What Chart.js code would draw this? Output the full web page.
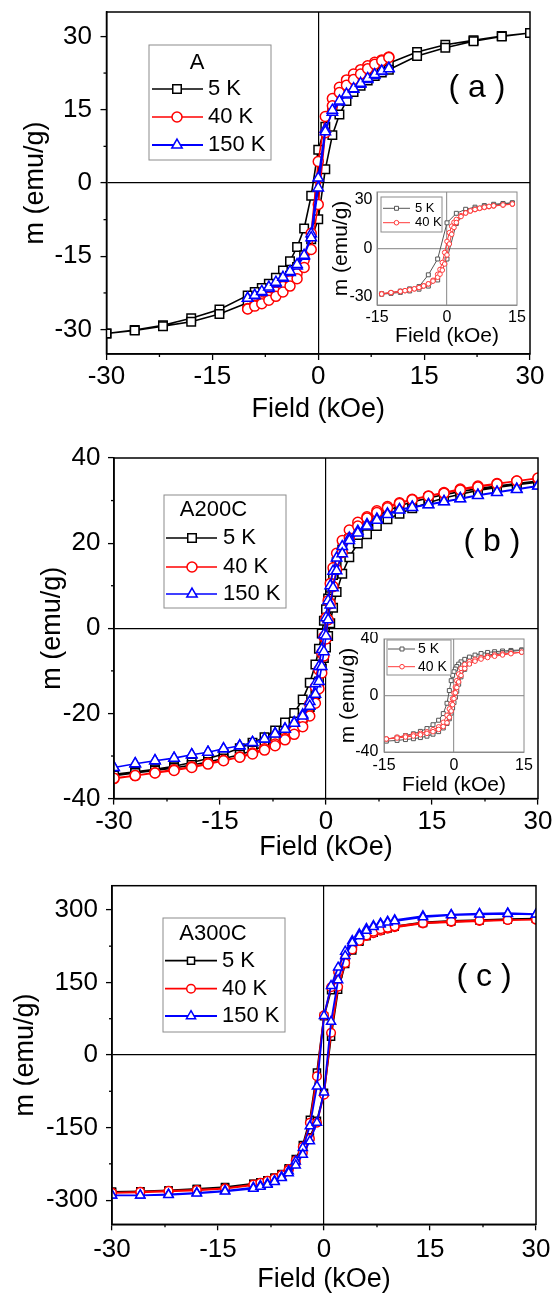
<!DOCTYPE html>
<html>
<head>
<meta charset="utf-8">
<script src="https://cdn.jsdelivr.net/npm/chart.js@4.4.1/dist/chart.umd.min.js"></script>
<style>
  html, body { margin: 0; padding: 0; background: #fff; }
  #page { position: relative; width: 554px; height: 1295px; overflow: hidden; background: #fff; }
  canvas { position: absolute; }
</style>
</head>
<body>
<div id="page">
  <canvas id="chartA" width="554" height="425" style="left:0px;top:0px"></canvas>
  <canvas id="insetA" width="215" height="162" style="left:320px;top:185px"></canvas>
  <canvas id="chartB" width="554" height="440" style="left:0px;top:425px"></canvas>
  <canvas id="insetB" width="215" height="164" style="left:325px;top:632px"></canvas>
  <canvas id="chartC" width="554" height="430" style="left:0px;top:865px"></canvas>
</div>
<script>
// ---- data (field in kOe, m in emu/g); "Down" = field sweeping + to -, "Up" = - to + ----
var fieldA = [30, 26, 22, 18, 14, 10, 9, 8, 7, 6, 5, 4, 3, 2, 1, 0, -1, -2, -3, -4, -5, -6, -7, -8, -9, -10, -14, -18, -22, -26, -30];
var fieldA10 = [10, 9, 8, 7, 6, 5, 4, 3, 2, 1, 0, -1, -2, -3, -4, -5, -6, -7, -8, -9, -10];
var a5Down = [30.7, 30.1, 29.2, 28.3, 26.8, 24.5, 23.9, 23.2, 22.4, 21.5, 20.4, 19.0, 17.2, 14.8, 11.5, 6.8, -2.6, -9.3, -13.1, -16.0, -17.9, -19.4, -20.6, -21.5, -22.3, -23.0, -25.9, -27.7, -29.1, -30.1, -30.8];
var a5Up = [-30.8, -30.2, -29.3, -28.4, -26.8, -24.5, -23.9, -23.2, -22.4, -21.5, -20.4, -19.0, -17.2, -14.8, -11.5, -7.4, 2.8, 9.8, 14.0, 16.8, 18.6, 19.9, 21.0, 21.9, 22.6, 23.2, 26.0, 27.7, 29.0, 30.0, 30.7];
var a40Down = [25.8, 25.2, 24.7, 24.0, 23.2, 22.3, 21.1, 19.6, 17.3, 13.6, 4.4, -10.3, -15.8, -18.5, -20.0, -21.2, -22.3, -23.4, -24.3, -25.0, -25.7];
var a40Up = [-25.8, -25.2, -24.7, -24.0, -23.2, -22.3, -21.1, -19.6, -17.3, -13.6, -4.4, 10.3, 15.8, 18.5, 20.0, 21.2, 22.3, 23.4, 24.3, 25.0, 25.7];
var a150Down = [23.5, 22.8, 22.0, 21.2, 20.2, 19.2, 18.0, 16.6, 14.5, 11.0, 1.0, -10.4, -15.0, -17.0, -18.3, -19.5, -20.6, -21.6, -22.4, -23.1, -23.6];
var a150Up = [-23.6, -23.0, -22.2, -21.3, -20.3, -19.3, -18.1, -16.7, -14.8, -11.2, -1.0, 10.5, 14.9, 16.8, 18.2, 19.3, 20.4, 21.4, 22.2, 22.9, 23.4];

var fieldInsetA5 = [14, 12, 10, 8, 6, 4, 2, 0, -2, -4, -6, -8, -10, -12, -14];
var insetA5Down = [28.3, 27.9, 27.4, 26.6, 25.6, 24.3, 21.8, 15.9, -6.5, -16.3, -23.6, -25.0, -26.4, -27.4, -28.0];
var insetA5Up = [-28.3, -27.8, -27.2, -26.3, -25.2, -23.3, -19.5, -6.5, 15.5, 22.3, 24.5, 25.8, 26.8, 27.6, 28.2];
var fieldInsetA40 = [14, 12, 10, 9, 8, 7, 6, 5, 4, 3, 2, 1.5, 1, 0.5, 0, -0.5, -1, -1.5, -2, -3, -4, -5, -6, -7, -8, -9, -10, -12, -14];
var insetA40Down = [27.4, 26.9, 26.3, 25.9, 25.4, 24.8, 24.1, 23.2, 22.0, 20.4, 18.0, 16.2, 13.8, 9.8, 4.4, -2.5, -8.7, -13.0, -16.0, -19.7, -21.9, -23.2, -24.2, -25.0, -25.6, -26.1, -26.6, -27.3, -28.0];
var insetA40Up = [-28.2, -27.3, -26.6, -26.1, -25.6, -25.0, -24.2, -23.2, -21.9, -20.2, -17.8, -15.9, -13.4, -9.6, -4.0, 2.8, 8.8, 13.0, 16.1, 19.8, 22.0, 23.3, 24.2, 25.0, 25.6, 26.1, 26.5, 27.0, 27.6];

var fieldB = [30, 27, 24.2, 21.5, 19, 16.7, 14.5, 12.2, 10.4, 8.7, 7.2, 5.8, 4.5, 3.3, 2.3, 1.5, 1.0, 0.6, 0.3, 0, -0.3, -0.6, -1.0, -1.5, -2.3, -3.3, -4.5, -5.8, -7.2, -8.7, -10.4, -12.2, -14.5, -16.7, -19, -21.5, -24.2, -27, -30];
var b5Down = [34.6, 34.0, 33.4, 32.8, 32.1, 31.4, 30.6, 29.7, 28.7, 27.6, 26.4, 25.0, 23.2, 21.0, 18.5, 15.5, 12.5, 9.5, 7.0, 4.5, 1.8, -1.2, -4.8, -8.5, -12.8, -16.7, -19.9, -22.1, -24.0, -25.6, -26.9, -28.2, -29.5, -30.6, -31.5, -32.4, -33.1, -33.7, -34.3];
var b5Up = [-34.6, -34.0, -33.4, -32.8, -32.1, -31.4, -30.6, -29.7, -28.7, -27.6, -26.4, -25.0, -23.2, -21.0, -18.5, -15.5, -12.5, -9.5, -7.0, -4.5, -1.8, 1.2, 4.8, 8.5, 12.8, 16.7, 19.9, 22.1, 24.0, 25.6, 26.9, 28.2, 29.5, 30.6, 31.5, 32.4, 33.1, 33.7, 34.3];
var b40Down = [35.2, 34.6, 34.0, 33.4, 32.7, 31.9, 31.1, 30.3, 29.5, 28.6, 27.6, 26.2, 24.9, 23.1, 20.6, 17.6, 14.2, 10.5, 6.5, 2.5, -2.0, -5.8, -9.8, -13.8, -17.8, -21.2, -24.0, -25.9, -27.2, -28.3, -29.3, -30.2, -31.0, -31.7, -32.5, -33.2, -33.9, -34.6, -35.3];
var b40Up = [-35.2, -34.6, -34.0, -33.4, -32.7, -31.9, -31.1, -30.3, -29.5, -28.6, -27.6, -26.2, -24.9, -23.1, -20.6, -17.6, -14.2, -10.5, -6.5, -2.5, 2.0, 5.8, 9.8, 13.8, 17.8, 21.2, 24.0, 25.9, 27.2, 28.3, 29.3, 30.2, 31.0, 31.7, 32.5, 33.2, 33.9, 34.6, 35.3];
var b150Down = [33.5, 32.7, 32.0, 31.3, 30.5, 29.8, 29.1, 28.5, 27.9, 26.9, 25.7, 24.4, 22.8, 21.2, 19.2, 16.5, 13.4, 10.0, 6.5, 2.5, -1.5, -5.0, -9.0, -13.0, -17.2, -20.3, -22.1, -23.6, -24.7, -26.0, -26.8, -27.6, -28.3, -29.1, -29.7, -30.5, -31.1, -31.8, -32.7];
var b150Up = [-32.7, -31.8, -31.1, -30.5, -29.7, -29.1, -28.3, -27.6, -26.8, -26.0, -24.8, -23.7, -22.3, -20.6, -18.3, -15.5, -12.5, -9.0, -5.5, -1.8, 2.0, 5.5, 9.5, 13.5, 17.5, 20.6, 22.4, 24.0, 25.4, 26.7, 27.8, 28.4, 29.0, 29.7, 30.4, 31.2, 31.9, 32.6, 33.4];

var fieldInsetB = [14.5, 12.2, 10.4, 8.7, 7.2, 5.8, 4.5, 3.3, 2.3, 1.5, 1.0, 0.6, 0.3, 0, -0.3, -0.6, -1.0, -1.5, -2.3, -3.3, -4.5, -5.8, -7.2, -8.7, -10.4, -12.2, -14.5];
var insetB5Down = [32.3, 31.9, 31.5, 31.0, 30.5, 29.7, 28.6, 27.2, 25.6, 23.8, 22.2, 20.5, 18.7, 16.8, 14.3, 10.5, 3.5, -5.5, -12.8, -17.5, -20.7, -23.4, -25.4, -27.1, -28.3, -29.6, -31.0];
var insetB5Up = [-32.3, -31.8, -31.2, -30.6, -29.8, -28.8, -27.4, -25.6, -23.0, -19.8, -16.5, -12.5, -8.8, -5.0, -1.2, 3.0, 8.0, 13.2, 18.5, 22.6, 25.3, 27.1, 28.4, 29.5, 30.4, 31.2, 32.0];
var insetB40Down = [30.6, 30.0, 29.4, 28.7, 27.8, 26.8, 25.6, 24.0, 22.0, 19.2, 15.2, 10.5, 6.0, 1.8, -2.3, -5.8, -9.5, -14.0, -19.0, -22.2, -24.2, -25.7, -26.8, -27.7, -28.6, -29.5, -30.8];
var insetB40Up = [-30.8, -30.1, -29.4, -28.7, -27.8, -26.8, -25.6, -24.0, -22.0, -19.3, -15.5, -11.0, -6.5, -2.2, 1.9, 5.6, 9.6, 14.2, 19.1, 22.3, 24.3, 25.8, 26.9, 27.8, 28.7, 29.6, 30.7];

var fieldC = [30, 26, 22, 18, 14, 10, 9, 8, 7, 6, 5, 4, 3, 2, 1, 0, -1, -2, -3, -4, -5, -6, -7, -8, -9, -10, -14, -18, -22, -26, -30];
var c5Down = [282, 281, 279, 277, 274, 266, 262, 258, 253, 246, 236, 221, 198, 168, 134, 80, -36, -134, -186, -215, -234, -246, -254, -259, -263, -266, -273, -277, -280, -282, -283];
var c5Up = [-283, -282, -280, -277, -274, -267, -263, -259, -254, -247, -237, -222, -200, -170, -136, -78, 38, 135, 188, 216, 234, 246, 253, 258, 262, 265, 273, 276, 278, 280, 282];
var c40Down = [280, 279, 277, 275, 272, 264, 261, 257, 252, 246, 236, 222, 200, 172, 140, 82, -44, -140, -190, -218, -236, -248, -256, -262, -266, -269, -276, -280, -282, -284, -285];
var c40Up = [-285, -283, -281, -279, -276, -268, -264, -260, -255, -248, -238, -224, -202, -173, -140, -82, 46, 141, 190, 218, 236, 247, 255, 260, 263, 266, 273, 276, 278, 279, 280];
var c150Down = [291, 293, 292, 290, 287, 279, 276, 272, 267, 261, 250, 236, 214, 181, 143, 81, -65, -147, -192, -220, -240, -252, -260, -266, -270, -274, -281, -285, -288, -290, -290];
var c150Up = [-290, -290, -289, -286, -282, -276, -272, -268, -262, -254, -244, -228, -206, -178, -140, -77, 69, 155, 205, 232, 246, 257, 265, 270, 274, 277, 285, 289, 291, 292, 291];

var xTicksMain = [-30, -15, 0, 15, 30];
var xMinorMain = [-22.5, -7.5, 7.5, 22.5];
var yTicksA = [-30, -15, 0, 15, 30];
var yTicksB = [-40, -20, 0, 20, 40];
var yTicksC = [-300, -150, 0, 150, 300];
var xTicksInset = [-15, 0, 15];
var yTicksInsetA = [-30, 0, 30];
var yTicksInsetB = [-40, 0, 40];

var FONT = '"Liberation Sans", Arial, sans-serif';
Chart.defaults.font.family = FONT;
Chart.defaults.color = '#000';

// join the two sweeps into one closed loop
function loop(field, down, up) {
  var pts = [];
  var back = field.slice().reverse();
  field.forEach(function(x, i) { pts.push({x: x, y: down[i]}); });
  back.forEach(function(x, i) { pts.push({x: x, y: up[i]}); });
  return pts;
}

function series(label, pts, color, style, r, lw, order) {
  return {
    label: label, data: pts, showLine: true, tension: 0, order: order,
    borderColor: color, borderWidth: lw, backgroundColor: '#fff',
    pointStyle: style, pointRadius: r, pointHoverRadius: r,
    pointBorderColor: color, pointBackgroundColor: '#fff', pointBorderWidth: lw < 1.2 ? 1 : 1.5
  };
}

function drawMark(ctx, style, x, y, r) {
  ctx.beginPath();
  if (style === 'rect') {
    var s = r * Math.SQRT1_2;
    ctx.rect(x - s, y - s, 2 * s, 2 * s);
  } else if (style === 'circle') {
    ctx.arc(x, y, r, 0, Math.PI * 2);
  } else {
    for (var k = 0; k < 3; k++) {
      var ang = k * Math.PI * 2 / 3;
      var px = x + Math.sin(ang) * r, py = y - Math.cos(ang) * r;
      if (k === 0) ctx.moveTo(px, py); else ctx.lineTo(px, py);
    }
    ctx.closePath();
  }
  ctx.fill();
  ctx.stroke();
}

// frame, minor ticks, boxed legend and panel tag
var decor = {
  id: 'decor',
  afterDraw: function(chart, args, o) {
    var ctx = chart.ctx, a = chart.chartArea;
    if (!o || !o.frame) return;
    ctx.save();
    ctx.strokeStyle = o.tickColor || '#000';
    ctx.lineWidth = 1.3;
    (o.minorX || []).forEach(function(v) {
      var px = chart.scales.x.getPixelForValue(v);
      ctx.beginPath(); ctx.moveTo(px, a.bottom); ctx.lineTo(px, a.bottom + o.minorLen); ctx.stroke();
    });
    (o.minorY || []).forEach(function(v) {
      var py = chart.scales.y.getPixelForValue(v);
      ctx.beginPath(); ctx.moveTo(a.left, py); ctx.lineTo(a.left - o.minorLen, py); ctx.stroke();
    });
    ctx.strokeStyle = o.frame;
    ctx.lineWidth = o.frameWidth;
    ctx.strokeRect(a.left, a.top, a.right - a.left, a.bottom - a.top);

    var lg = o.legend;
    if (lg) {
      ctx.fillStyle = '#fff';
      ctx.fillRect(lg.box[0], lg.box[1], lg.box[2], lg.box[3]);
      ctx.strokeStyle = '#8c8c8c';
      ctx.lineWidth = 1;
      ctx.strokeRect(lg.box[0], lg.box[1], lg.box[2], lg.box[3]);
      ctx.font = lg.size + 'px ' + FONT;
      ctx.textBaseline = 'middle';
      if (lg.title) {
        ctx.fillStyle = '#000';
        ctx.textAlign = 'center';
        ctx.fillText(lg.title, lg.titleX, lg.titleY);
      }
      ctx.textAlign = 'left';
      lg.rows.forEach(function(rowY, i) {
        var ds = chart.data.datasets[i];
        ctx.strokeStyle = ds.borderColor;
        ctx.lineWidth = ds.borderWidth;
        ctx.beginPath(); ctx.moveTo(lg.line[0], rowY); ctx.lineTo(lg.line[1], rowY); ctx.stroke();
        ctx.fillStyle = '#fff';
        ctx.lineWidth = ds.pointBorderWidth;
        drawMark(ctx, ds.pointStyle, lg.mark, rowY, ds.pointRadius);
        ctx.fillStyle = '#000';
        ctx.fillText(ds.label, lg.text, rowY);
      });
    }
    if (o.tag) {
      ctx.fillStyle = '#000';
      ctx.font = '32px ' + FONT;
      ctx.textAlign = 'center';
      ctx.textBaseline = 'middle';
      ctx.fillText(o.tag.text, o.tag.x, o.tag.y);
    }
    ctx.restore();
  }
};
Chart.register(decor);

function zeroLine(color) {
  return function(c) { return (c.tick && c.tick.value === 0) ? color : 'rgba(0,0,0,0)'; };
}

function options(p) {
  return {
    responsive: false, animation: false, events: [],
    layout: { padding: { left: 0, top: p.padTop, right: p.padRight, bottom: 0 } },
    plugins: {
      legend: { display: false }, tooltip: { enabled: false },
      decor: { frame: p.frame, frameWidth: p.frameWidth, minorX: p.minorX, minorY: p.minorY, minorLen: 3,
               legend: p.legend, tag: p.tag }
    },
    scales: {
      x: {
        type: 'linear', min: p.xMin, max: p.xMax,
        afterBuildTicks: function(s) { s.ticks = p.xTicks.map(function(v) { return {value: v}; }); },
        afterFit: function(s) { s.height = p.axisH; s.paddingLeft = 0; s.paddingRight = 0; },
        ticks: { font: { size: p.tickSize, lineHeight: 1.2 }, padding: p.xTickPad, maxRotation: 0, autoSkip: false,
                 callback: function(v) { return String(v); } },
        grid: { color: zeroLine(p.zero), lineWidth: 1.2, drawTicks: p.drawTicks, tickLength: 6, tickColor: '#000', tickWidth: 1.3 },
        border: { display: true, color: p.frame, width: p.frameWidth },
        title: { display: true, text: 'Field (kOe)', font: { size: p.titleSize, lineHeight: 1 }, padding: { top: 0, bottom: p.xTitlePad } }
      },
      y: {
        type: 'linear', min: p.yMin, max: p.yMax,
        afterBuildTicks: function(s) { s.ticks = p.yTicks.map(function(v) { return {value: v}; }); },
        afterFit: function(s) { s.width = p.axisW; s.paddingTop = 0; s.paddingBottom = 0; },
        ticks: { font: { size: p.tickSize, lineHeight: 1.2 }, padding: p.yTickPad, autoSkip: false,
                 callback: function(v) { return String(v); } },
        grid: { color: zeroLine(p.zero), lineWidth: 1.2, drawTicks: p.drawTicks, tickLength: 6, tickColor: '#000', tickWidth: 1.3 },
        border: { display: true, color: p.frame, width: p.frameWidth },
        title: { display: true, text: 'm (emu/g)', font: { size: p.titleSize, lineHeight: 1 }, padding: { top: p.yTitlePad, bottom: 0 } }
      }
    }
  };
}

function mainPanel(extra) {
  var p = { xMin: -30, xMax: 30, xTicks: xTicksMain, minorX: xMinorMain, tickSize: 26, titleSize: 27,
            frame: '#000', frameWidth: 1.5, zero: '#000', drawTicks: true };
  for (var k in extra) p[k] = extra[k];
  return options(p);
}
function insetPanel(extra) {
  var p = { xMin: -15, xMax: 15, xTicks: xTicksInset, tickSize: 16, titleSize: 21,
            frame: '#8a8a8a', frameWidth: 1, zero: '#9a9a9a', drawTicks: false };
  for (var k in extra) p[k] = extra[k];
  return options(p);
}

var BLACK = '#000000', RED = '#ff0000', BLUE = '#0000ff';
var GRAY = '#555555', PINK = '#ff3b3b';

// (a) sample A
new Chart(document.getElementById('chartA'), {
  type: 'scatter',
  data: { datasets: [
    series('5 K', loop(fieldA, a5Down, a5Up), BLACK, 'rect', 6, 1.6, 3),
    series('40 K', loop(fieldA10, a40Down, a40Up), RED, 'circle', 5, 1.6, 2),
    series('150 K', loop(fieldA10, a150Down, a150Up), BLUE, 'triangle', 6, 1.8, 1)
  ] },
  options: mainPanel({ padTop: 12, padRight: 24, axisW: 106.5, axisH: 71, yMin: -35, yMax: 35,
    yTicks: yTicksA, minorY: [-22.5, -7.5, 7.5, 22.5], yTitlePad: 22, xTitlePad: 1.5, xTickPad: 1.5, yTickPad: 8.5,
    legend: { box: [149, 45, 122, 115], title: 'A', titleX: 197, titleY: 63, rows: [89, 117, 145],
              line: [152, 203], mark: 177, text: 208, size: 22 },
    tag: { text: '( a )', x: 477, y: 88 } })
});

new Chart(document.getElementById('insetA'), {
  type: 'scatter',
  data: { datasets: [
    series('5 K', loop(fieldInsetA5, insetA5Down, insetA5Up), GRAY, 'rect', 2.8, 1, 2),
    series('40 K', loop(fieldInsetA40, insetA40Down, insetA40Up), PINK, 'circle', 2.3, 1, 1)
  ] },
  options: insetPanel({ padTop: 7, padRight: 18, axisW: 57, axisH: 42, yMin: -35, yMax: 35,
    yTicks: yTicksInsetA, yTitlePad: 10.5, xTitlePad: 0.5, xTickPad: 3, yTickPad: 4.5,
    legend: { box: [61, 12, 61, 35], rows: [23.3, 37.7], line: [63, 90], mark: 76.5, text: 95, size: 13 } })
});

// (b) sample A200C
new Chart(document.getElementById('chartB'), {
  type: 'scatter',
  data: { datasets: [
    series('5 K', loop(fieldB, b5Down, b5Up), BLACK, 'rect', 6, 1.6, 3),
    series('40 K', loop(fieldB, b40Down, b40Up), RED, 'circle', 5, 1.6, 2),
    series('150 K', loop(fieldB, b150Down, b150Up), BLUE, 'triangle', 6, 1.6, 1)
  ] },
  options: mainPanel({ padTop: 33, padRight: 16, axisW: 114, axisH: 66.4, yMin: -40, yMax: 40,
    yTicks: yTicksB, minorY: [-30, -10, 10, 30], yTitlePad: 39, xTitlePad: 3.5, xTickPad: 2, yTickPad: 7.6,
    legend: { box: [164, 70, 122, 113], title: 'A200C', titleX: 213.5, titleY: 85, rows: [113, 142, 169],
              line: [166, 217], mark: 192, text: 223, size: 22 },
    tag: { text: '( b )', x: 492, y: 117 } })
});

new Chart(document.getElementById('insetB'), {
  type: 'scatter',
  data: { datasets: [
    series('5 K', loop(fieldInsetB, insetB5Down, insetB5Up), GRAY, 'rect', 2.8, 1, 2),
    series('40 K', loop(fieldInsetB, insetB40Down, insetB40Up), PINK, 'circle', 2.3, 1, 1)
  ] },
  options: insetPanel({ padTop: 7, padRight: 16, axisW: 59, axisH: 44, yMin: -40, yMax: 40,
    yTicks: yTicksInsetB, yTitlePad: 12.5, xTitlePad: 0.5, xTickPad: 4, yTickPad: 5.7,
    legend: { box: [62, 8, 64, 35], rows: [17, 34.7], line: [63, 90], mark: 77, text: 93, size: 14 } })
});

// (c) sample A300C
new Chart(document.getElementById('chartC'), {
  type: 'scatter',
  data: { datasets: [
    series('5 K', loop(fieldC, c5Down, c5Up), BLACK, 'rect', 5, 1.8, 3),
    series('40 K', loop(fieldC, c40Down, c40Up), RED, 'circle', 4.3, 1.8, 2),
    series('150 K', loop(fieldC, c150Down, c150Up), BLUE, 'triangle', 5.3, 1.8, 1)
  ] },
  options: mainPanel({ padTop: 20.7, padRight: 18, axisW: 112, axisH: 70.7, yMin: -350, yMax: 350,
    yTicks: yTicksC, minorY: [-225, -75, 75, 225], yTitlePad: 11.8, xTitlePad: 1.5, xTickPad: 4, yTickPad: 8,
    legend: { box: [163, 53, 122, 114], title: 'A300C', titleX: 213, titleY: 69, rows: [95.7, 123.7, 151],
              line: [165, 217], mark: 191, text: 222, size: 22 },
    tag: { text: '( c )', x: 484, y: 112 } })
});
</script>
</body>
</html>
